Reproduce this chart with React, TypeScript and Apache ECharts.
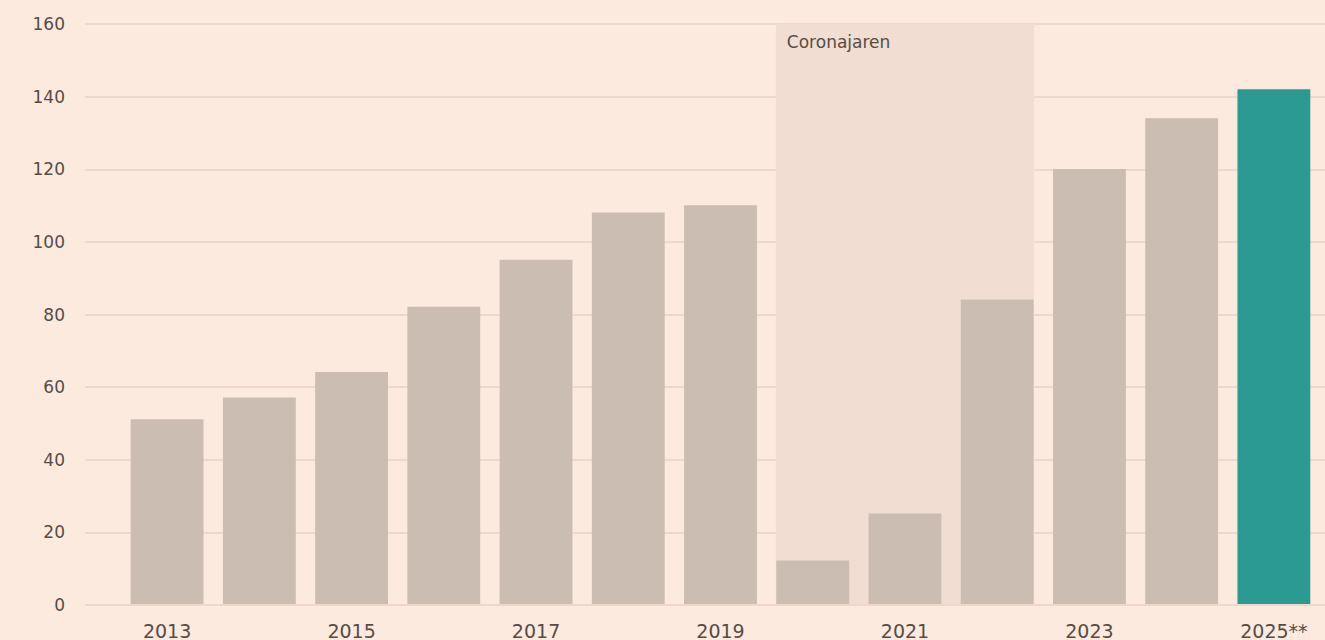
import React, { useEffect, useRef } from "react";
import * as echarts from "echarts";

const years = ["2013","2014","2015","2016","2017","2018","2019","2020","2021","2022","2023","2024","2025**"];
const values = [51, 57, 64, 82, 95, 108, 110, 12, 25, 84, 120, 134, 142];
const highlightIndex = 12;
const coronaRange = [7, 9];
const coronaLabel = "Coronajaren";
const yTicks = { min: 0, max: 160, interval: 20 };

const BG = "#fdeadf";
const BAR = "#cbbdb1";
const TEAL = "#2a9a93";
const SHADE = "#f1ddd2";
const GRIDLINE = "#efd7ca";
const TEXT = "#564c46";

export default function App() {
  const ref = useRef<HTMLDivElement>(null);
  useEffect(() => {
    if (!ref.current) return;
    const chart = echarts.init(ref.current, undefined, { renderer: "svg" });
    const fontFamily = "DejaVu Sans";
    chart.setOption({
      animation: false,
      backgroundColor: BG,
      grid: [
        { left: 85, right: 0, top: 24, bottom: 35 },
        { left: 121, right: 5, top: 24, bottom: 35 },
      ],
      xAxis: [
        { gridIndex: 0, type: "value", show: false, min: 0, max: 1 },
        {
          gridIndex: 1,
          type: "category",
          data: years,
          axisLine: { show: false },
          axisTick: { show: false },
          axisLabel: { interval: 1, color: TEXT, fontSize: 19, fontFamily, margin: 17 },
        },
      ],
      yAxis: [
        {
          gridIndex: 0,
          type: "value",
          min: yTicks.min,
          max: yTicks.max,
          interval: yTicks.interval,
          axisLine: { show: false },
          axisTick: { show: false },
          axisLabel: { color: TEXT, fontSize: 17, fontFamily, margin: 20 },
          splitLine: { lineStyle: { color: GRIDLINE, width: 2 } },
        },
        {
          gridIndex: 1,
          type: "value",
          min: yTicks.min,
          max: yTicks.max,
          interval: yTicks.interval,
          show: false,
          splitLine: { show: false },
        },
      ],
      series: [
        {
          type: "custom",
          xAxisIndex: 1,
          yAxisIndex: 1,
          z: 1,
          silent: true,
          data: [[coronaRange[0], coronaRange[1]]],
          renderItem: (params: any, api: any) => {
            const start = api.value(0);
            const end = api.value(1);
            const band = api.size([1, 0])[0];
            const half = band * 0.4;
            const p0 = api.coord([start, yTicks.max]);
            const p1 = api.coord([end, yTicks.min]);
            const x0 = p0[0] - half;
            const x1 = p1[0] + half;
            return {
              type: "group",
              children: [
                {
                  type: "rect",
                  shape: { x: x0, y: p0[1], width: x1 - x0, height: p1[1] - p0[1] },
                  style: { fill: SHADE },
                },
                {
                  type: "text",
                  x: x0 + 11,
                  y: p0[1] + 18,
                  style: {
                    text: coronaLabel,
                    fill: TEXT,
                    font: `17px "${fontFamily}"`,
                    verticalAlign: "middle",
                  },
                },
              ],
            };
          },
        },
        {
          type: "bar",
          xAxisIndex: 1,
          yAxisIndex: 1,
          z: 3,
          barCategoryGap: "21%",
          data: values.map((v, i) => ({
            value: v,
            itemStyle: { color: i === highlightIndex ? TEAL : BAR },
          })),
        },
      ],
    });
    return () => chart.dispose();
  }, []);
  return (
    <div
      ref={ref}
      style={{ position: "absolute", left: 0, top: 0, width: 1325, height: 640 }}
    />
  );
}
